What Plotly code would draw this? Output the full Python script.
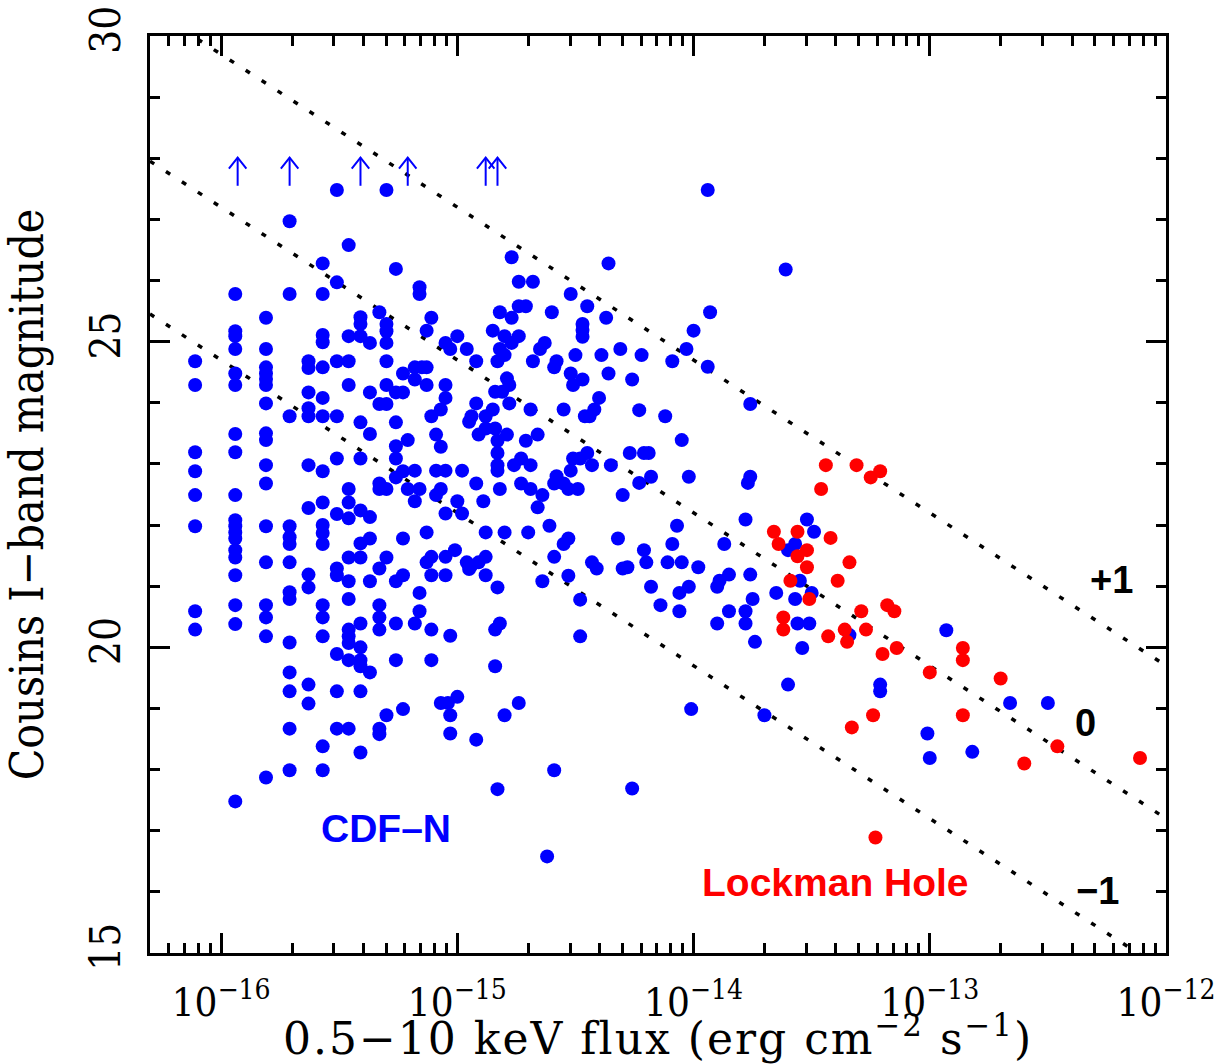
import numpy as np
import plotly.graph_objects as go

# ---------------- data (log10 of 0.5-10 keV flux, Cousins I magnitude) ----------------
# CDF-N: faint sources arranged in flux columns
col_logfx = [-16.11, -15.94, -15.81, -15.71, -15.63, -15.57, -15.51, -15.46, -15.41,
             -15.37, -15.33, -15.30, -15.26, -15.23, -15.21]
col_mags = [
    [24.68, 24.29, 23.19, 22.88, 22.49, 21.98, 20.59, 20.29],
    [25.78, 25.17, 25.09, 24.88, 24.48, 24.29, 23.49, 23.19, 22.49, 22.08, 21.98, 21.88,
     21.78, 21.59, 21.47, 21.18, 20.69, 20.38, 17.48],
    [25.39, 24.88, 24.58, 24.48, 24.39, 24.29, 23.99, 23.50, 23.39, 22.98, 22.68, 21.98,
     21.39, 20.69, 20.49, 20.18, 17.87],
    [26.97, 25.78, 23.78, 21.98, 21.80, 21.69, 21.39, 20.90, 20.79, 20.08, 19.59, 19.28,
     18.67, 17.99],
    [24.68, 24.57, 24.17, 23.91, 23.78, 22.98, 22.28, 21.19, 20.98, 19.39, 19.08],
    [26.28, 25.78, 25.11, 24.99, 24.58, 24.08, 23.78, 22.88, 22.37, 22.00, 21.87, 21.69,
     20.69, 20.49, 20.18, 18.38, 17.99],
    [27.48, 25.97, 24.68, 23.78, 23.09, 22.18, 21.29, 21.18, 19.89, 19.28, 18.67],
    [26.58, 25.09, 24.68, 24.29, 22.59, 22.37, 22.11, 21.47, 21.08, 20.79, 20.29, 20.18,
     20.07, 19.79, 18.67],
    [25.40, 25.29, 25.09, 23.68, 23.09, 22.24, 21.70, 21.47, 20.39, 20.00, 19.79, 19.69,
     19.28, 18.28],
    [24.98, 24.17, 23.49, 22.13, 21.78, 21.08, 19.59],
    [25.48, 23.98, 22.68, 22.59, 21.29, 20.69, 20.49, 20.29, 18.67, 18.58],
    [27.48, 25.29, 25.17, 24.98, 24.68, 24.29, 23.98, 22.59, 21.47, 18.89],
    [26.19, 24.17, 23.68, 23.29, 23.09, 22.78, 21.08, 20.39, 19.79],
    [24.48, 24.17, 22.88, 21.78, 21.18, 18.99],
    [23.39, 22.59],
]

# CDF-N: remaining sources
cdfn_logfx = [
    -15.16, -15.16, -15.11, -15.13, -15.18, -15.15, -15.13, -15.18, -15.13, -15.05,
    -15.05, -15.07, -15.11, -15.09, -15.07, -15.18, -15.09, -15.05, -15.16, -15.07,
    -15.09, -15.18, -15.00, -15.05, -14.98, -14.98, -15.00, -15.05, -15.03, -14.96,
    -14.92, -14.82, -14.80, -14.83, -14.77, -14.85, -14.80, -14.74, -14.82, -14.77,
    -14.74, -14.71, -14.74, -14.68, -14.77, -14.36, -14.52, -14.60, -14.45, -14.47,
    -14.47, -14.47, -14.37, -14.63, -14.65, -14.68, -14.58, -14.59, -14.50, -14.39,
    -14.31, -14.36, -14.52, -14.47, -14.51, -14.79, -14.78, -14.84, -14.81, -14.78,
    -14.92, -14.85, -14.88, -14.69, -14.55, -14.40, -14.42, -14.44, -14.46, -14.94,
    -14.95, -14.88, -14.84, -14.91, -14.79, -14.83, -14.71, -14.66, -14.83, -14.83,
    -14.83, -14.73, -14.76, -14.69, -14.51, -14.45, -14.48, -14.43, -14.35, -14.27,
    -14.52, -14.58, -14.59, -14.55, -14.53, -14.49, -14.73, -14.69, -14.64, -14.66,
    -14.82, -14.92, -14.89, -14.30,
    -15.13, -14.88, -14.80, -14.70, -14.61, -14.53, -14.55, -14.32, -14.43, -14.41,
    -14.30, -14.59, -14.53, -14.64, -14.48, -14.48, -15.11, -15.13, -15.05, -15.01,
    -14.96, -14.94, -14.95, -14.91, -14.88, -15.11, -15.05, -14.88, -14.83, -15.16,
    -15.16, -15.18, -15.11, -15.03, -14.84, -14.82, -15.11, -14.84, -15.07, -15.04,
    -15.00, -15.03, -15.03, -14.92, -14.80, -14.74, -14.59, -14.83, -14.62,
    -13.94, -13.61, -13.93, -14.00, -14.22, -14.03, -14.09, -13.94, -14.26, -14.23,
    -14.12, -13.76, -14.05, -14.21, -14.19, -14.18, -14.23, -14.02, -13.76, -13.77,
    -14.07, -13.78, -14.21, -14.20, -14.09, -14.11, -14.05, -13.98, -13.87, -14.28,
    -13.52, -13.49, -13.57, -13.60,
    -14.18, -14.06, -14.02, -14.14, -14.06, -13.90, -13.89, -13.85, -13.76, -13.75,
    -13.78, -13.78, -13.85, -13.90, -13.74, -13.65, -13.57, -13.55, -13.50, -13.56,
    -13.51, -13.54, -13.60, -14.01, -13.70, -14.26, -13.21, -13.21, -13.34,
    -12.93, -12.66, -12.50, -13.01, -13.00, -12.82,
]
cdfn_mag = [
    25.89, 25.78, 25.39, 25.18, 24.58, 24.58, 24.58, 24.38, 24.29, 24.29,
    24.08, 23.89, 23.78, 23.48, 23.28, 22.89, 22.89, 22.89, 22.59, 22.59,
    22.49, 22.39, 22.39, 22.19, 22.19, 22.89, 25.09, 24.98, 24.88, 24.88,
    24.68, 24.88, 24.78, 24.68, 24.98, 25.18, 25.09, 25.09, 25.48, 25.39,
    25.58, 25.58, 25.98, 25.98, 26.38, 26.28, 25.78, 25.48, 25.58, 25.29,
    25.19, 25.08, 25.39, 24.98, 24.88, 24.68, 24.68, 24.58, 24.78, 24.78,
    24.88, 24.48, 24.48, 24.38, 24.29, 24.40, 24.29, 24.18, 24.18, 23.99,
    23.99, 23.89, 23.78, 23.89, 23.89, 24.08, 23.89, 23.78, 23.78, 23.78,
    23.69, 23.58, 23.58, 23.48, 23.48, 23.38, 23.38, 23.48, 23.18, 22.98,
    22.89, 23.09, 22.98, 22.98, 23.09, 23.18, 23.09, 22.98, 22.98, 23.18,
    22.89, 22.80, 22.68, 22.68, 22.59, 22.59, 22.68, 22.59, 22.49, 22.29,
    22.59, 22.68, 22.39, 22.49,
    21.88, 21.88, 21.88, 21.88, 21.99, 21.78, 21.69, 21.78, 21.39, 21.29,
    21.29, 21.48, 21.17, 21.08, 20.78, 20.18, 21.48, 21.39, 21.48, 21.59,
    21.39, 21.34, 21.28, 21.39, 21.48, 21.18, 21.18, 21.18, 20.98, 20.89,
    20.59, 20.39, 20.29, 20.19, 20.29, 20.39, 19.79, 19.69, 19.09, 19.09,
    19.19, 18.89, 18.59, 18.49, 18.89, 19.09, 17.99, 17.68, 16.58,
    27.48, 26.18, 25.48, 25.18, 24.78, 24.88, 24.68, 24.59, 24.38, 23.88,
    23.78, 23.98, 23.39, 23.18, 23.18, 22.79, 22.69, 22.79, 22.79, 22.69,
    21.99, 22.09, 21.59, 21.39, 21.69, 21.39, 21.39, 21.31, 21.69, 21.31,
    22.09, 21.89, 21.69, 21.59,
    20.99, 20.89, 20.99, 20.69, 20.59, 20.99, 21.09, 21.19, 21.19, 20.79,
    20.59, 20.39, 20.59, 20.39, 20.09, 20.89, 20.79, 21.09, 20.89, 20.39,
    20.39, 19.99, 19.39, 18.99, 18.89, 17.69, 19.39, 19.28, 20.20,
    20.28, 19.09, 19.09, 18.59, 18.19, 18.29,
]

# CDF-N lower limits (optically undetected), drawn as upward arrows
limit_logfx = [-15.93, -15.71, -15.41, -15.21, -14.88, -14.83]
limit_mag = [27.55, 27.55, 27.55, 27.55, 27.55, 27.55]

# Lockman Hole
lh_logfx = [
    -13.44, -13.31, -13.21, -13.25, -13.46, -13.66, -13.64, -13.56, -13.52, -13.56,
    -13.42, -13.34, -13.52, -13.59, -13.39, -13.51, -13.62, -13.62, -13.43, -13.36,
    -13.35, -13.29, -13.27, -13.18, -13.15, -13.20, -13.14, -13.24, -13.33, -13.23,
    -13.00, -12.86, -12.86, -12.70, -12.86, -12.46, -12.60, -12.11,
]
lh_mag = [
    22.98, 22.98, 22.88, 22.78, 22.59, 21.89, 21.69, 21.89, 21.59, 21.49,
    21.79, 21.39, 21.31, 21.09, 21.09, 20.79, 20.49, 20.29, 20.18, 20.29,
    20.09, 20.59, 20.29, 20.69, 20.59, 19.89, 19.99, 18.89, 18.69, 16.89,
    19.59, 19.99, 19.79, 19.49, 18.89, 18.38, 18.10, 18.19,
]

# constant lines of log(fX/fopt)
ratio_levels = [1, 0, -1]
ratio_labels = ["+1", "0", "\u22121"]
ratio_label_pos = [(-12.23, 21.10), (-12.34, 18.77), (-12.29, 16.02)]
ratio_const = 5.12

x_tick_exps = [-16, -15, -14, -13, -12]
y_tick_vals = [15, 20, 25, 30]

# ---------------- build figure ----------------
BLUE = "#0000ff"
RED = "#ff0000"
x_range_log = [np.log10(5e-17), -12.0]

fig = go.Figure()

# dotted ratio lines
lf = np.array(x_range_log)
for lev in ratio_levels:
    mag = 2.5 * (lev - lf - ratio_const)
    fig.add_trace(go.Scatter(
        x=10 ** lf, y=mag, mode="lines",
        line=dict(color="black", width=3.5, dash="5px,14px"),
        hoverinfo="skip", showlegend=False))

# CDF-N points
all_x = []
all_y = []
for lx, mags in zip(col_logfx, col_mags):
    all_x += [lx] * len(mags)
    all_y += mags
all_x += cdfn_logfx
all_y += cdfn_mag
fig.add_trace(go.Scatter(
    x=10 ** np.array(all_x), y=all_y, mode="markers",
    marker=dict(color=BLUE, size=14, line=dict(width=0)),
    name="CDF-N", showlegend=False))

# arrows for lower limits
arrow_len = 0.46
head_dx = 0.037
head_dm = 0.18
ax, ay = [], []
for lx, m in zip(limit_logfx, limit_mag):
    tip = m + arrow_len
    ax += [10 ** lx, 10 ** lx, None,
           10 ** (lx - head_dx), 10 ** lx, 10 ** (lx + head_dx), None]
    ay += [m, tip, None, tip - head_dm, tip, tip - head_dm, None]
fig.add_trace(go.Scatter(
    x=ax, y=ay, mode="lines", line=dict(color=BLUE, width=2),
    hoverinfo="skip", showlegend=False))

# Lockman Hole points
fig.add_trace(go.Scatter(
    x=10 ** np.array(lh_logfx), y=lh_mag, mode="markers",
    marker=dict(color=RED, size=14, line=dict(width=0)),
    name="Lockman Hole", showlegend=False))

annots = []
for lab, (px, py) in zip(ratio_labels, ratio_label_pos):
    annots.append(dict(x=px, y=py, xref="x", yref="y", text=lab, showarrow=False,
                       font=dict(family="Liberation Sans", size=38, color="black", weight="bold")))
annots.append(dict(x=-15.30, y=17.04, xref="x", yref="y", text="CDF\u2013N", showarrow=False,
                   font=dict(family="Liberation Sans", size=39, color=BLUE, weight="bold")))
annots.append(dict(x=-13.40, y=16.15, xref="x", yref="y", text="Lockman Hole", showarrow=False,
                   font=dict(family="Liberation Sans", size=39, color=RED, weight="bold")))
# x-axis title (placed explicitly under the tick labels, centred on the plot)
annots.append(dict(x=0.5, y=-0.122, xref="paper", yref="paper",
                   xanchor="center", yanchor="bottom", showarrow=False, borderpad=0,
                   text=('<span style="letter-spacing:2px">0.5\u221210 keV flux '
                         '(erg cm<sup>\u22122</sup> s<sup>\u22121</sup>)</span>'),
                   font=dict(family="DejaVu Serif", size=44, color="black")))

minor_x = [k * 10.0 ** e for e in range(-17, -12) for k in range(2, 10)
           if 5e-17 <= k * 10.0 ** e <= 1e-12]

serif = "DejaVu Serif Condensed, DejaVu Serif"

fig.update_layout(
    width=1232, height=1064,
    margin=dict(l=150, r=66, t=36, b=111),
    paper_bgcolor="white", plot_bgcolor="white",
    annotations=annots,
    xaxis=dict(
        type="log", range=x_range_log, automargin=False,
        showline=True, linecolor="black", linewidth=3, mirror="allticks",
        ticks="inside", ticklen=20, tickwidth=3, tickcolor="black",
        tickvals=[10.0 ** e for e in x_tick_exps],
        ticktext=["10<sup>\u2212%d</sup>" % (-e) for e in x_tick_exps],
        tickfont=dict(family=serif, size=40, color="black"),
        ticklabelstandoff=12,
        minor=dict(ticks="inside", ticklen=10, tickwidth=3, tickcolor="black",
                   tickvals=minor_x, showgrid=False),
        showgrid=False, zeroline=False,
    ),
    yaxis=dict(
        range=[15, 30], automargin=False,
        showline=True, linecolor="black", linewidth=3, mirror="allticks",
        ticks="inside", ticklen=20, tickwidth=3, tickcolor="black",
        tickvals=y_tick_vals, tickangle=-90,
        tickfont=dict(family=serif, size=42, color="black"),
        ticklabelstandoff=10,
        minor=dict(ticks="inside", ticklen=10, tickwidth=3, tickcolor="black",
                   dtick=1, showgrid=False),
        showgrid=False, zeroline=False,
        title=dict(text="Cousins I\u2212band magnitude",
                   font=dict(family=serif, size=46, color="black"), standoff=30),
    ),
)

fig.write_html("out.html")
